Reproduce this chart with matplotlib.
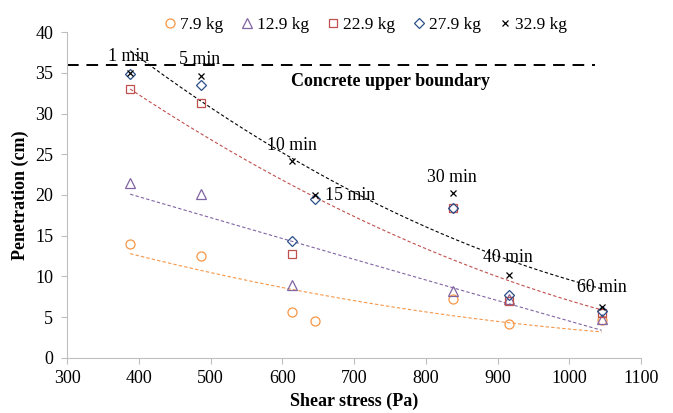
import numpy as np
import matplotlib
matplotlib.use("Agg")
import matplotlib.pyplot as plt

# shear stress (Pa) for each sampling time
shear = [388, 486, 614, 645, 838, 916, 1045]

# penetration (cm) per load, None where no point is visible
pen_79 = [14.0, 12.5, 5.7, 4.5, 7.2, 4.2, 4.7]
pen_129 = [21.5, 20.1, 9.0, None, 8.2, 7.2, 4.8]
pen_229 = [33.0, 31.3, 12.8, None, 18.4, 7.0, 5.5]
pen_279 = [34.8, 33.5, 14.3, 19.5, 18.4, 7.7, 5.8]
pen_329 = [35.0, 34.6, 24.2, 20.0, 20.3, 10.2, 6.3]

# trend line values read at x = 388, 716, 1045 (2nd order polynomial trend)
trend_x = [388, 716, 1045]
trend_79 = [12.8, 6.8, 3.2]
trend_129 = [20.1, 11.7, 3.4]
trend_229 = [33.0, 16.7, 5.9]
trend_329 = [37.7, 19.6, 8.5]

# time labels and where they sit
time_labels = ["1 min", "5 min", "10 min", "15 min", "30 min", "40 min", "60 min"]
label_x = [386, 485, 613, 694, 837, 914, 1046]
label_y = [37.0, 36.6, 26.1, 19.9, 22.2, 12.3, 8.6]

boundary = 36

plt.rcParams['font.family'] = ['Liberation Serif', 'DejaVu Serif']
plt.rcParams['font.size'] = 13

fig = plt.figure(figsize=(6.73, 4.13), dpi=100)
ax = fig.add_axes([0.0996, 0.1332, 0.853, 0.7893])

def draw_trend(vals, color):
    coef = np.polyfit(trend_x, vals, 2)
    xs = np.linspace(trend_x[0], trend_x[-1], 200)
    ax.plot(xs, np.polyval(coef, xs), color=color, lw=0.8, ls=(0, (3, 2)), zorder=2)

draw_trend(trend_79, "#F79646")
draw_trend(trend_129, "#8064A2")
draw_trend(trend_229, "#C0504D")
draw_trend(trend_329, "black")

series = [
    (pen_79, "7.9 kg", "o", "#F79646"),
    (pen_129, "12.9 kg", "^", "#8064A2"),
    (pen_229, "22.9 kg", "s", "#C0504D"),
    (pen_279, "27.9 kg", "D", "#2A4F8A"),
    (pen_329, "32.9 kg", "x", "black"),
]
handles = []
for vals, name, mk, col in series:
    xs = [x for x, v in zip(shear, vals) if v is not None]
    ys = [v for v in vals if v is not None]
    ms = 6.5
    if mk == "D":
        ms = 5
    elif mk == "s":
        ms = 6
    elif mk == "x":
        ms = 5
    h, = ax.plot(xs, ys, ls="none", marker=mk, ms=ms, mfc="none", mec=col,
                 mew=0.9, label=name, zorder=3)
    handles.append(h)

ax.plot([300, 1036], [boundary, boundary], color="black", lw=1.4,
        ls=(0, (6, 4)), zorder=2)
ax.text(751, 33.9, "Concrete upper boundary", ha="center", va="center",
        fontweight="bold", fontsize=13)

for t, x, y in zip(time_labels, label_x, label_y):
    ax.text(x, y, t, ha="center", va="center", fontsize=12.8, zorder=4)

ax.set_xlim(300, 1100)
ax.set_ylim(0, 40)
ax.set_xticks(range(300, 1101, 100))
ax.set_yticks(range(0, 41, 5))
ax.set_xlabel("Shear stress (Pa)", fontweight="bold", labelpad=4, fontsize=13)
ax.set_ylabel("Penetration (cm)", fontweight="bold", labelpad=4, fontsize=13)

for s in ["top", "right"]:
    ax.spines[s].set_visible(False)
for s in ["left", "bottom"]:
    ax.spines[s].set_color("#BFBFBF")
    ax.spines[s].set_linewidth(0.8)
ax.tick_params(direction="out", length=4, color="#BFBFBF", width=0.8,
               labelsize=13)
ax.tick_params(axis="y", pad=6)
ax.tick_params(axis="x", pad=5)

fig.legend(handles=handles, loc="center", bbox_to_anchor=(0.541, 0.94),
           ncol=5, frameon=False, handletextpad=0.1, columnspacing=0.85,
           handlelength=1.0, fontsize=12.5)

fig.savefig("out.png", dpi=100)
